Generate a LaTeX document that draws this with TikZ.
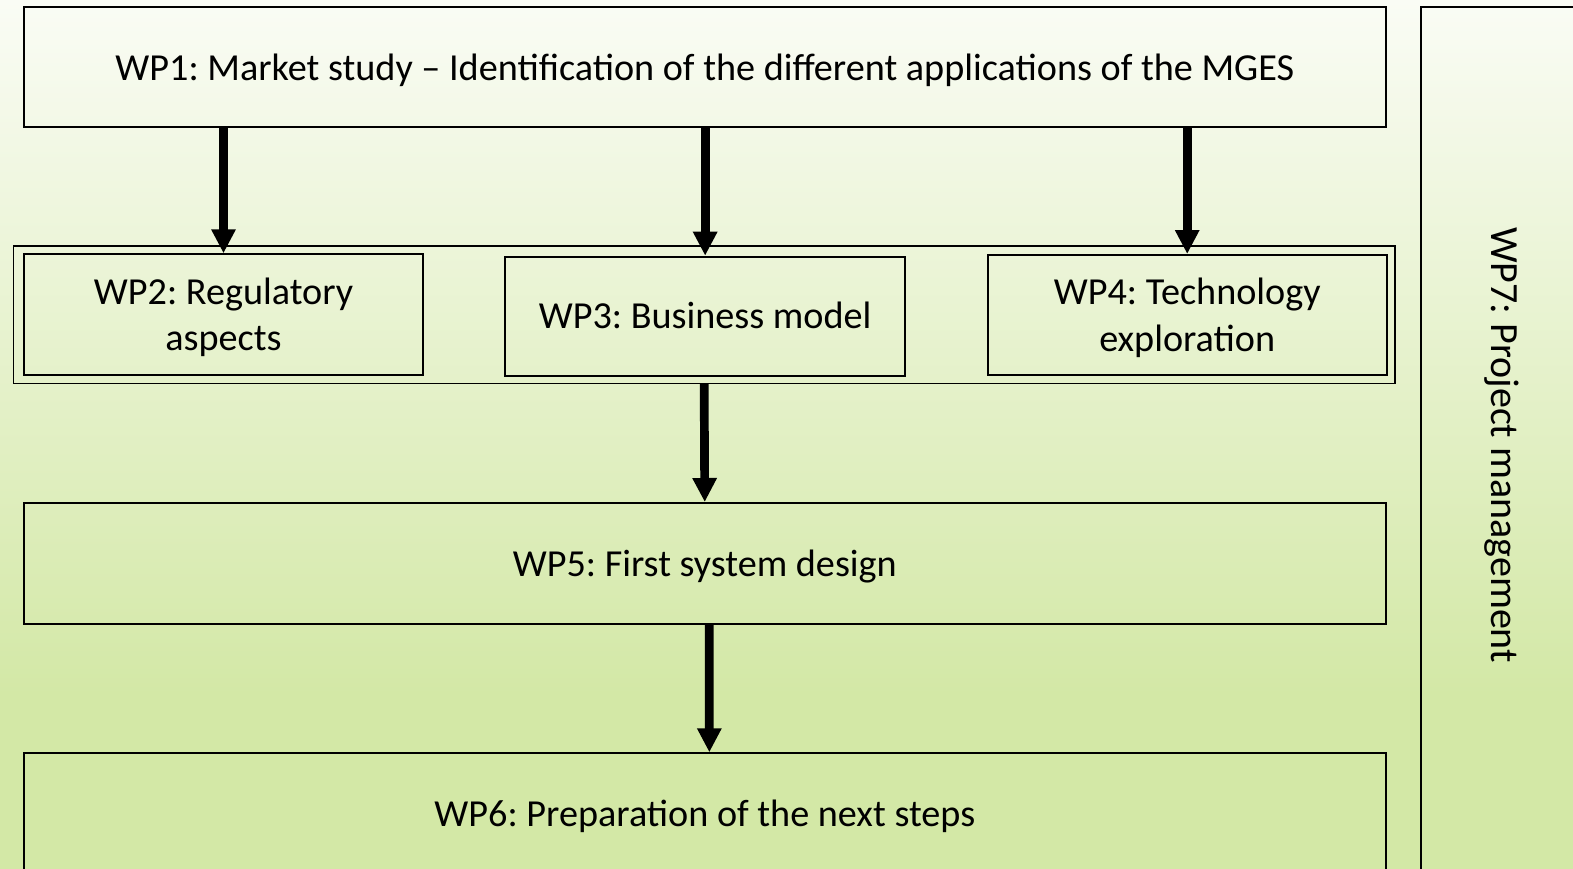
\documentclass[tikz,border=0pt]{standalone}
\usepackage{fontspec}
\setmainfont{Carlito}
\usetikzlibrary{arrows.meta}

\definecolor{bgtop}{HTML}{FAFCF5}
\definecolor{bgbot}{HTML}{D3E8A6}
% vertical fade: pale at the top, light green over the lower fifth
\pgfdeclareverticalshading{pagefade}{100bp}{%
  color(0bp)=(bgbot); color(35bp)=(bgbot); color(75bp)=(bgtop); color(100bp)=(bgtop)}

% fixed ascent/descent for the first and last line of a label
\newcommand{\topstrut}{\rule{0pt}{32pt}}
\newcommand{\botstrut}{\rule[-6.5pt]{0pt}{6.5pt}}

\tikzset{
  wpbox/.style={draw=black, line width=2pt, rectangle, inner sep=0pt,
    align=center, font=\fontsize{38.2}{46.5}\selectfont\frenchspacing},
  flow/.style={line width=8.7pt, draw=black,
    -{Triangle[length=24pt, width=23pt]}},
}

\begin{document}
\begin{tikzpicture}[x=1pt, y=-1pt]
  \path[use as bounding box] (0,0) rectangle (1573,869);
  \clip (0,0) rectangle (1573,869);
  \shade[shading=pagefade] (0,0) rectangle (1573,869);

  % work packages
  \node[wpbox, minimum width=1362.3pt, minimum height=120pt] (wp1) at (704.85,67.3)
    {\topstrut WP1: Market study -- Identification of the different applications of the MGES\botstrut};

  \node[draw=black, line width=1.6pt, minimum width=1381.7pt, minimum height=137.6pt,
        inner sep=0pt] (grp) at (704.15,314.5) {};
  \node[wpbox, minimum width=399.6pt, minimum height=120.7pt] (wp2) at (223.5,314.65)
    {\topstrut WP2: Regulatory\\aspects\botstrut};
  \node[wpbox, minimum width=399.7pt, minimum height=119pt] (wp3) at (705.15,316.2)
    {\topstrut WP3: Business model\botstrut};
  \node[wpbox, minimum width=399pt, minimum height=120pt] (wp4) at (1187.2,315)
    {\topstrut WP4: Technology\\exploration\botstrut};

  \node[wpbox, minimum width=1362.5pt, minimum height=121pt] (wp5) at (704.75,563.5)
    {\topstrut WP5: First system design\botstrut};
  \node[wpbox, minimum width=1362.3pt, minimum height=121pt] (wp6) at (704.85,813.8)
    {\topstrut WP6: Preparation of the next steps\botstrut};

  \node[wpbox, rotate=-90, font=\fontsize{40}{48}\selectfont\frenchspacing,
        minimum width=875.4pt, minimum height=167pt] (wp7) at (1504.5,445)
    {\topstrut WP7: Project management\botstrut};

  % dependencies
  \draw[flow] (wp1.south -| wp2.north) -- (wp2.north);
  \draw[flow] (wp1.south -| wp3.north) -- (wp3.north);
  \draw[flow] (wp1.south -| wp4.north) -- (wp4.north);
  \draw[flow] (grp.south) -- (wp5.north);
  \draw[flow] ([xshift=4.5pt]wp5.south) -- ([xshift=4.5pt]wp6.north);
\end{tikzpicture}
\end{document}
